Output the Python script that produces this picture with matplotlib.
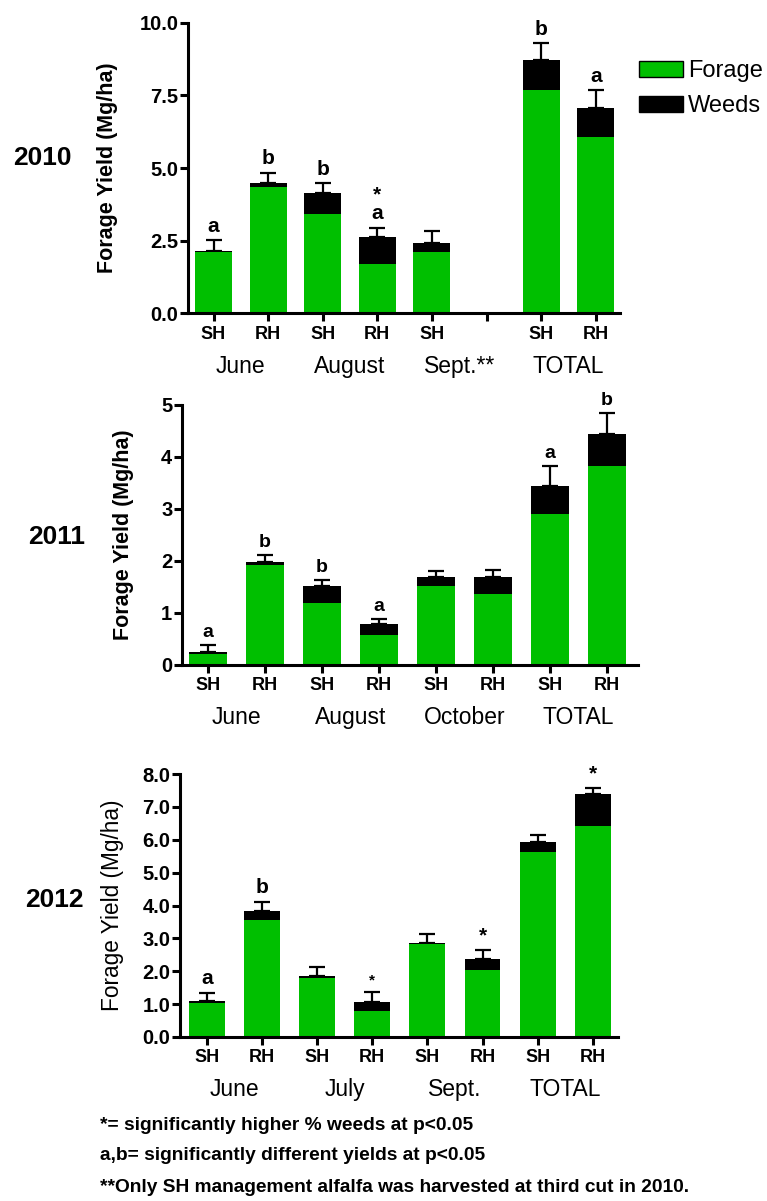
import numpy as np
import matplotlib
matplotlib.use("Agg")
import matplotlib.pyplot as plt
from matplotlib.patches import Patch

plt.rcParams['font.family'] = ['Liberation Sans', 'DejaVu Sans']

W, H = 767, 1201
GREEN = '#00BF00'

# ---------------- data ----------------
years = ["2010", "2011", "2012"]

labels_2010 = ["SH", "RH", "SH", "RH", "SH", "", "SH", "RH"]
forage_2010 = [2.12, 4.33, 3.42, 1.70, 2.10, np.nan, 7.68, 6.06]
weeds_2010 = [0.04, 0.14, 0.73, 0.94, 0.33, np.nan, 1.03, 1.00]
err_2010 = [0.37, 0.37, 0.34, 0.31, 0.40, np.nan, 0.58, 0.62]
sig_2010 = ["a", "b", "b", "*\na", "", "", "b", "a"]
months_2010 = ["June", "August", "Sept.**", "TOTAL"]

labels_2011 = ["SH", "RH", "SH", "RH", "SH", "RH", "SH", "RH"]
forage_2011 = [0.22, 1.92, 1.20, 0.57, 1.52, 1.37, 2.90, 3.83]
weeds_2011 = [0.03, 0.07, 0.32, 0.21, 0.18, 0.33, 0.54, 0.61]
err_2011 = [0.13, 0.13, 0.11, 0.10, 0.10, 0.13, 0.39, 0.40]
sig_2011 = ["a", "b", "b", "a", "", "", "a", "b"]
months_2011 = ["June", "August", "October", "TOTAL"]

labels_2012 = ["SH", "RH", "SH", "RH", "SH", "RH", "SH", "RH"]
forage_2012 = [1.03, 3.56, 1.80, 0.79, 2.83, 2.04, 5.64, 6.42]
weeds_2012 = [0.07, 0.27, 0.07, 0.28, 0.02, 0.33, 0.30, 0.97]
err_2012 = [0.25, 0.29, 0.27, 0.30, 0.28, 0.28, 0.20, 0.19]
sig_2012 = ["a", "b", "", "*", "", "*", "", "*"]
months_2012 = ["June", "July", "Sept.", "TOTAL"]

footnotes = ["*= significantly higher % weeds at p<0.05",
             "a,b= significantly different yields at p<0.05",
             "**Only SH management alfalfa was harvested at third cut in 2010."]

# ---------------- layout (pixels) ----------------
panels = [
    dict(year=years[0], labels=labels_2010, forage=forage_2010, weeds=weeds_2010, err=err_2010,
         sig=sig_2010, months=months_2010, left=188, right=620, top=22.7, bottom=313.3,
         x0=213.5, dx=54.6, width=0.68, ymax=10, yticks=np.arange(0, 10.01, 2.5), fmt="%.1f",
         ylab_bold=True, ylab_x=118, year_xy=(13, 158), sigsize=15),
    dict(year=years[1], labels=labels_2011, forage=forage_2011, weeds=weeds_2011, err=err_2011,
         sig=sig_2011, months=months_2011, left=182, right=638, top=405, bottom=665,
         x0=208, dx=57, width=0.66, ymax=5, yticks=np.arange(0, 6, 1), fmt="%d",
         ylab_bold=True, ylab_x=134, year_xy=(28, 537), sigsize=14),
    dict(year=years[2], labels=labels_2012, forage=forage_2012, weeds=weeds_2012, err=err_2012,
         sig=sig_2012, months=months_2012, left=180, right=618, top=774, bottom=1037,
         x0=207, dx=55.1, width=0.65, ymax=8, yticks=np.arange(0, 8.01, 1), fmt="%.1f",
         ylab_bold=False, ylab_x=124, year_xy=(25, 900), sigsize=15),
]

fig = plt.figure(figsize=(W / 100, H / 100), dpi=100)

for i, p in enumerate(panels):
    l, r, t, b = p['left'], p['right'], p['top'], p['bottom']
    ax = fig.add_axes([l / W, 1 - b / H, (r - l) / W, (b - t) / H])
    n = len(p['labels'])
    x = np.arange(n)
    forage = np.array(p['forage'], dtype=float)
    weeds = np.array(p['weeds'], dtype=float)
    err = np.array(p['err'], dtype=float)
    total = forage + weeds
    ax.bar(x, forage, width=p['width'], color=GREEN, zorder=2)
    ax.bar(x, weeds, bottom=forage, width=p['width'], color='black', zorder=2)
    ax.errorbar(x, total, yerr=[np.zeros(n), err], fmt='none', ecolor='black',
                elinewidth=1.6, capsize=6, capthick=1.6, zorder=1)
    for xi, s, tt, e in zip(x, p['sig'], total, err):
        if not s:
            continue
        small = (s == "*" and i == 2 and xi == 3)
        ax.annotate(s, (xi, tt + e), xytext=(0, 3), textcoords='offset points',
                    ha='center', va='bottom', fontsize=11 if small else p['sigsize'],
                    fontweight='bold', linespacing=1.0, zorder=3)

    xl = (l - p['x0']) / p['dx']
    xr = (r - p['x0']) / p['dx']
    ax.set_xlim(xl, xr)
    ax.set_ylim(0, p['ymax'])
    for sp in ['top', 'right']:
        ax.spines[sp].set_visible(False)
    for sp in ['left', 'bottom']:
        ax.spines[sp].set_linewidth(2.2)
    ax.set_xticks(x)
    ax.set_xticklabels(p['labels'], fontsize=13, fontweight='bold')
    ax.set_yticks(p['yticks'])
    ax.set_yticklabels([p['fmt'] % v for v in p['yticks']], fontsize=14.5, fontweight='bold')
    ax.tick_params(axis='both', direction='out', length=6, width=2.2, pad=3)
    ax.tick_params(axis='y', pad=1)

    ax.set_ylabel("Forage Yield (Mg/ha)", fontsize=15.5 if p['ylab_bold'] else 16.3,
                  fontweight='bold' if p['ylab_bold'] else 'normal')
    ax.yaxis.set_label_coords((p['ylab_x'] - l) / (r - l), 0.5)

    # month labels centred between each pair of bars
    for k, m in enumerate(p['months']):
        ax.annotate(m, ((2 * k + 2 * k + 1) / 2, 0), xycoords=('data', 'axes fraction'),
                    xytext=(0, -38), textcoords='offset points', ha='center', va='center',
                    fontsize=16.5)

    fig.text(p['year_xy'][0] / W, 1 - p['year_xy'][1] / H, p['year'], fontsize=19,
             fontweight='bold', ha='left', va='center')

    if i == 0:
        handles = [Patch(facecolor=GREEN, edgecolor='black', linewidth=1.0, label='Forage'),
                   Patch(facecolor='black', edgecolor='black', linewidth=1.0, label='Weeds')]
        fig.legend(handles=handles, loc='upper left', bbox_to_anchor=(639 / W, 1 - 60 / H),
                   frameon=False, fontsize=17, handlelength=1.86, handleheight=0.68,
                   handletextpad=0.2, labelspacing=0.55, borderaxespad=0, borderpad=0)

for k, ftxt in enumerate(footnotes):
    fig.text(100 / W, 1 - (1125 + 31 * k) / H, ftxt, fontsize=13.8, fontweight='bold',
             ha='left', va='center')

fig.savefig("out.png", dpi=100)
